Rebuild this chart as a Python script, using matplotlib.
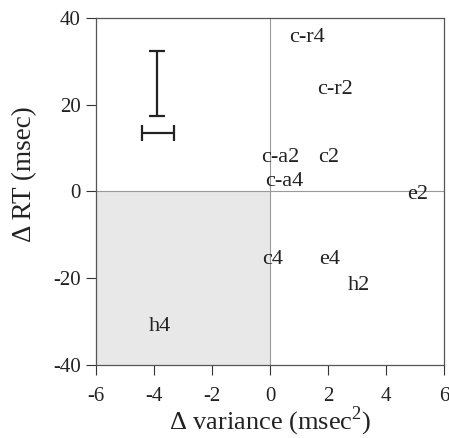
import matplotlib
matplotlib.use("Agg")
import matplotlib.pyplot as plt

# condition labels and their positions (delta variance, delta RT)
labels = ["c-r4", "c-r2", "c-a2", "c2", "c-a4", "e2", "c4", "e4", "h2", "h4"]
d_var = [1.28, 2.24, 0.35, 2.03, 0.48, 5.1, 0.1, 2.07, 3.07, -3.8]
d_rt = [35.6, 23.6, 7.9, 7.9, 2.2, -0.6, -15.8, -15.8, -21.7, -31.2]

# representative error bars
rt_bar_x, rt_bar_y, rt_bar_err = -3.9, 24.85, 7.45
var_bar_x, var_bar_y, var_bar_err = -3.86, 13.4, 0.55

plt.rcParams['font.family'] = ['Liberation Serif', 'DejaVu Serif']
plt.rcParams['axes.unicode_minus'] = False
plt.rcParams['mathtext.fontset'] = 'custom'
plt.rcParams['mathtext.rm'] = 'Liberation Serif'

fig = plt.figure(figsize=(4.49, 4.38), dpi=100)
ax = fig.add_axes([0.214, 0.167, 0.775, 0.792])

# shaded lower-left quadrant
ax.axvspan(-6, 0, ymin=0, ymax=0.5, color='#e8e8e8', lw=0)
ax.axhline(0, color='#9a9a9a', lw=0.8)
ax.axvline(0, color='#9a9a9a', lw=0.8)

for lab, x, y in zip(labels, d_var, d_rt):
    ax.text(x, y, lab, ha='center', va='center', fontsize=16, color='#222222')

ax.errorbar(rt_bar_x, rt_bar_y, yerr=rt_bar_err, color='#222222', lw=1.6,
            capsize=5.5, capthick=1.6)
ax.errorbar(var_bar_x, var_bar_y, xerr=var_bar_err, color='#222222', lw=1.6,
            capsize=5.5, capthick=1.6)

ax.set_xlim(-6, 6)
ax.set_ylim(-40, 40)
ax.set_xticks(range(-6, 7, 2))
ax.set_yticks(range(-40, 41, 20))
ax.tick_params(direction='out', length=7, width=0.8, labelsize=15,
               colors='#333333', labelcolor='#222222')
ax.tick_params(axis='x', pad=9)
ax.tick_params(axis='y', pad=4)
for s in ax.spines.values():
    s.set_color('#555555')
    s.set_linewidth(0.9)

ax.set_xlabel('Δ variance (msec$^\\mathrm{2}$)', fontsize=19, color='#222222')
ax.xaxis.set_label_coords(0.5, -0.115)
ax.set_ylabel('Δ RT (msec)', fontsize=19.5, color='#222222')
ax.yaxis.set_label_coords(-0.17, 0.549)

fig.savefig('out.png', dpi=100)
